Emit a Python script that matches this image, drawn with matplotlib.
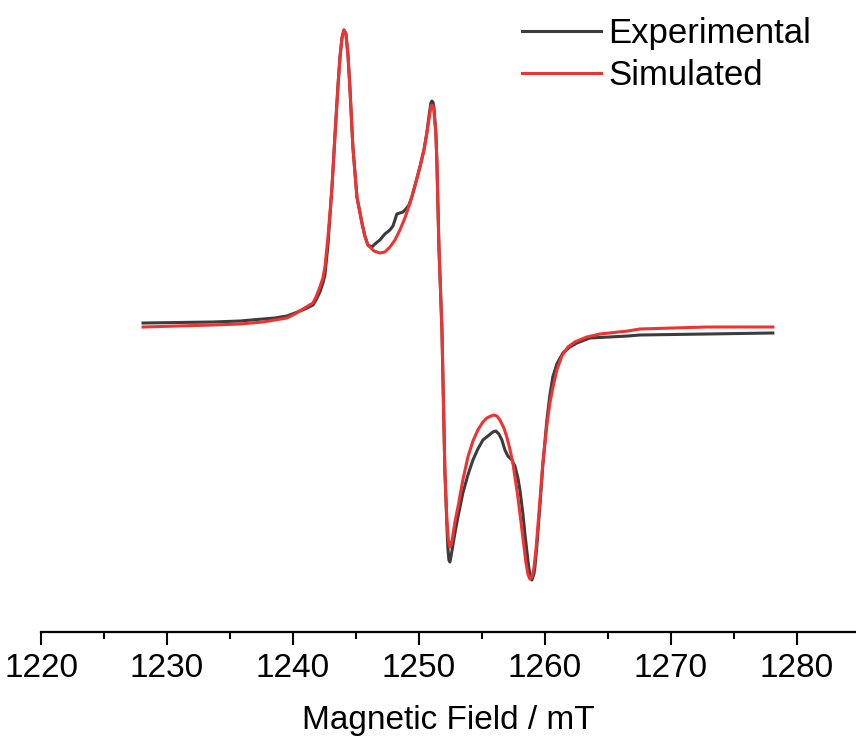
import numpy as np
import matplotlib
matplotlib.use("Agg")
import matplotlib.pyplot as plt
from matplotlib.ticker import MultipleLocator

plt.rcParams['font.family'] = ['Liberation Sans', 'DejaVu Sans']

# ----------------------- Data -----------------------
exp_field = [1228.10, 1233.65, 1235.79, 1237.62, 1238.57, 1239.52, 1240.16, 1240.95,
             1241.59, 1241.83, 1242.14, 1242.38, 1242.54, 1242.78, 1242.94, 1243.10,
             1243.33, 1243.57, 1243.73, 1243.89, 1244.05, 1244.21, 1244.37, 1244.52,
             1244.76, 1245.08, 1245.48, 1245.71, 1245.95, 1246.27, 1246.51, 1246.90,
             1247.30, 1247.70, 1247.94, 1248.10, 1248.25, 1248.49, 1248.73, 1248.97,
             1249.21, 1249.44, 1249.68, 1250.08, 1250.40, 1250.63, 1250.79, 1250.95,
             1251.03, 1251.11, 1251.19, 1251.35, 1251.43, 1251.59, 1251.83, 1252.06,
             1252.22, 1252.30, 1252.38, 1252.46, 1252.54, 1252.70, 1252.86, 1253.10,
             1253.49, 1253.89, 1254.29, 1254.68, 1255.08, 1255.48, 1255.87, 1256.11,
             1256.35, 1256.59, 1256.83, 1257.06, 1257.38, 1257.62, 1257.86, 1258.02,
             1258.25, 1258.41, 1258.65, 1258.81, 1258.97, 1259.13, 1259.21, 1259.37,
             1259.60, 1259.84, 1260.16, 1260.40, 1260.63, 1260.95, 1261.43, 1261.98,
             1262.54, 1263.57, 1266.59, 1267.54, 1272.86, 1278.10]
exp_signal = [3, 4, 5, 7, 8, 10, 13, 17,
              21, 26, 34, 43, 51, 81, 110, 139,
              189, 239, 268, 288, 296, 292, 271, 239,
              179, 129, 103, 90, 81, 79, 82, 86,
              92, 96, 100, 106, 112, 113, 114, 117,
              121, 129, 140, 159, 176, 193, 209, 223,
              225, 224, 219, 193, 163, 79, -4, -144,
              -199, -222, -234, -236, -231, -219, -207, -191,
              -167, -149, -134, -123, -114, -110, -106, -105,
              -108, -114, -124, -130, -134, -140, -152, -164,
              -187, -207, -234, -249, -254, -248, -241, -219,
              -181, -139, -94, -69, -51, -38, -27, -21,
              -17, -12, -10, -9, -8, -7]

sim_field = [1228.10, 1233.65, 1235.79, 1237.62, 1238.57, 1239.52, 1240.16, 1240.79,
             1241.19, 1241.59, 1241.83, 1242.14, 1242.38, 1242.54, 1242.78, 1242.94,
             1243.10, 1243.33, 1243.57, 1243.73, 1243.89, 1244.05, 1244.21, 1244.37,
             1244.52, 1244.76, 1245.08, 1245.48, 1245.71, 1245.95, 1246.43, 1246.90,
             1247.30, 1247.70, 1248.10, 1248.49, 1248.89, 1249.29, 1249.68, 1250.08,
             1250.40, 1250.63, 1250.79, 1250.95, 1251.03, 1251.11, 1251.19, 1251.35,
             1251.43, 1251.59, 1251.83, 1252.06, 1252.22, 1252.34, 1252.46, 1252.58,
             1252.70, 1252.86, 1253.10, 1253.49, 1253.89, 1254.29, 1254.68, 1255.08,
             1255.40, 1255.71, 1255.95, 1256.19, 1256.43, 1256.75, 1256.98, 1257.22,
             1257.46, 1257.86, 1258.25, 1258.49, 1258.65, 1258.81, 1258.97, 1259.13,
             1259.29, 1259.44, 1259.84, 1260.16, 1260.40, 1260.63, 1260.95, 1261.35,
             1261.83, 1262.38, 1263.33, 1264.37, 1266.59, 1267.54, 1272.86, 1278.10]
sim_signal = [-1, 1, 2, 4, 6, 8, 12, 17,
              20, 23, 29, 39, 48, 59, 89, 113,
              139, 189, 239, 268, 288, 296, 292, 271,
              239, 179, 129, 103, 90, 81, 75, 73,
              74, 79, 86, 96, 108, 123, 140, 159,
              176, 193, 206, 219, 221, 220, 216, 191,
              163, 79, -4, -144, -194, -214, -221, -218,
              -209, -196, -181, -154, -131, -115, -104, -96,
              -92, -90, -89, -90, -94, -102, -111, -123,
              -137, -171, -211, -236, -248, -253, -251, -242,
              -224, -201, -137, -99, -77, -62, -44, -30,
              -21, -16, -11, -8, -5, -3, -1, -1]

xticks = [1220, 1230, 1240, 1250, 1260, 1270, 1280]

# ----------------------- Plot -----------------------
fig = plt.figure(figsize=(8.56, 7.36), dpi=100)
ax = fig.add_axes([0.0479, 0.1413, 0.9521, 0.8587])

ax.plot(exp_field, exp_signal, color="#3c3c3c", lw=2.2, label="Experimental")
ax.plot(sim_field, sim_signal, color="#EE3333", lw=2.2, label="Simulated")

ax.set_xlim(1220, 1284.7)
ax.set_ylim(-306, 326)
ax.set_xticks(xticks)
ax.xaxis.set_minor_locator(MultipleLocator(5))
ax.tick_params(axis="x", which="major", direction="out", length=9, width=1.5,
               labelsize=24, pad=6)
ax.tick_params(axis="x", which="minor", direction="out", length=5, width=1.5)
ax.set_yticks([])
for s in ["left", "right", "top"]:
    ax.spines[s].set_visible(False)
ax.spines["bottom"].set_linewidth(1.6)
ax.set_xlabel("Magnetic Field / mT", fontsize=24, labelpad=15)

ax.legend(loc="upper right", bbox_to_anchor=(0.968, 1.0), bbox_transform=fig.transFigure,
          frameon=False, fontsize=25, handlelength=2.3, handletextpad=0.2,
          labelspacing=0.25, borderaxespad=0.1)

plt.savefig("out.png", dpi=100)
plt.close(fig)
